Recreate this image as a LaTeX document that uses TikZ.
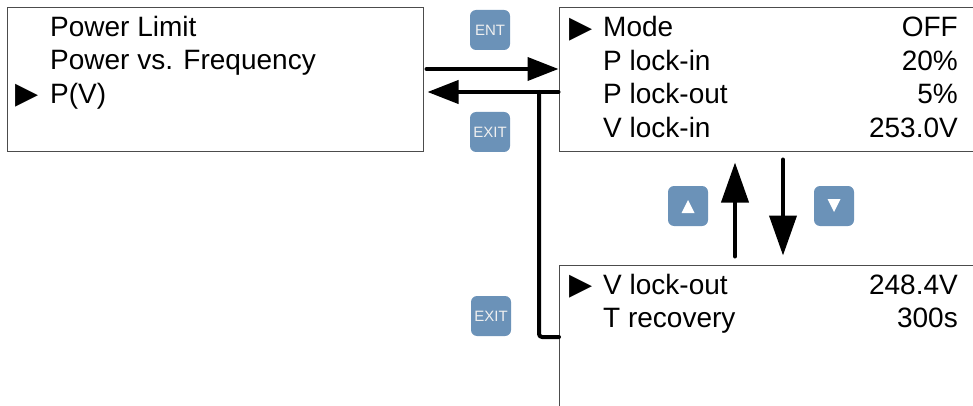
\documentclass[tikz,border=0pt]{standalone}
\usepackage{fontspec}
\setmainfont{Liberation Sans}
\newfontfamily\symfont{DejaVu Sans}
\usetikzlibrary{arrows.meta}
\definecolor{keyblue}{RGB}{107,146,184}
\tikzset{
  screen/.style={draw=black!70, line width=1pt, fill=white, inner sep=0pt},
  item/.style={font=\fontsize{28}{33}\selectfont, inner sep=0pt},
  pointer/.style={font=\symfont\fontsize{30}{30}\selectfont, inner sep=0pt},
  keybtn/.style={fill=keyblue, rounded corners=6pt, minimum size=40pt,
                 inner sep=0pt, text=white!94!black, font=\fontsize{15}{15}\selectfont},
  keymark/.style={fill=white},
  flow/.style={draw=black, line width=4pt, line cap=round,
               -{Triangle[length=31pt,width=23pt]}},
  scroll/.style={draw=black, line width=4pt, line cap=round,
                 -{Triangle[length=40pt,width=27pt]}},
  link/.style={draw=black, line width=4pt, line cap=round, line join=round,
               rounded corners=3pt}
}
\begin{document}
\begin{tikzpicture}[x=1pt,y=-1pt]
  \clip (0,0) rectangle (973,406);

  % Display screens.
  \node[screen, minimum width=416pt, minimum height=144pt] (scrmenu) at (215,80) {};
  \node[screen, minimum width=441pt, minimum height=144pt] (scrtop) at (779.5,80) {};
  \node[screen, minimum width=441pt, minimum height=165pt] (scrbot) at (779.5,347.5) {};

  % Menu screen entries.
  \node[item, anchor=base west] (mlimit) at (50,37) {Power Limit};
  \node[item, anchor=base west] (mfreq) at (50,70) {Power vs. Frequency};
  \node[item, anchor=base west] (mpv) at (50,103.5) {P(V)};
  \node[pointer] (mptr) at (27.5,96) {▶};

  % P(V) settings, first page.
  \node[pointer] (tptr) at (581,29.5) {▶};
  \node[item, anchor=base west] (tmode) at (603,37) {Mode};
  \node[item, anchor=base west] (tpin) at (603,70.5) {P lock-in};
  \node[item, anchor=base west] (tpout) at (603,104) {P lock-out};
  \node[item, anchor=base west] (tvin) at (603,137.5) {V lock-in};
  \node[item, anchor=base east] (vmode) at (958,37) {OFF};
  \node[item, anchor=base east] (vpin) at (958,70.5) {20\%};
  \node[item, anchor=base east] (vpout) at (958,104) {5\%};
  \node[item, anchor=base east] (vvin) at (958,137.5) {253.0V};

  % P(V) settings, second page.
  \node[pointer] (bptr) at (581,286.5) {▶};
  \node[item, anchor=base west] (bvout) at (603,294) {V lock-out};
  \node[item, anchor=base west] (btrec) at (603,327.5) {T recovery};
  \node[item, anchor=base east] (vvout) at (958,294) {248.4V};
  \node[item, anchor=base east] (vtrec) at (958,327.5) {300s};

  % Keys.
  \node[keybtn] (keyent) at (490,30) {ENT};
  \node[keybtn] (keyexit) at (490,132) {EXIT};
  \node[keybtn] (keyexitb) at (491,316) {EXIT};
  \node[keybtn] (keyup) at (688,206) {};
  \node[keybtn] (keydown) at (834,206) {};
  \fill[keymark] ([shift={(-6.5,7)}]keyup.center) -- ([shift={(6.5,7)}]keyup.center)
                 -- ([shift={(0,-6)}]keyup.center) -- cycle;
  \fill[keymark] ([shift={(-6.5,-7)}]keydown.center) -- ([shift={(6.5,-7)}]keydown.center)
                 -- ([shift={(0,6)}]keydown.center) -- cycle;

  % Navigation arrows.
  \draw[flow] ([xshift=3pt,yshift=11pt]scrmenu.east) -- ([yshift=11pt]scrtop.west);
  \draw[flow] ([yshift=-12pt]scrtop.west) -- ([xshift=4pt,yshift=-12pt]scrmenu.east);
  \coordinate (exitjoin) at (539,92);
  \coordinate (exitfoot) at (559,337);
  \draw[link] (exitjoin) |- (exitfoot);
  \draw[scroll] ([xshift=-44.5pt,yshift=8pt]scrbot.north) -- ([xshift=-44.5pt,yshift=-10pt]scrtop.south);
  \draw[scroll] ([xshift=3.5pt,yshift=-7pt]scrtop.south) -- ([xshift=3.5pt,yshift=9pt]scrbot.north);
\end{tikzpicture}
\end{document}
